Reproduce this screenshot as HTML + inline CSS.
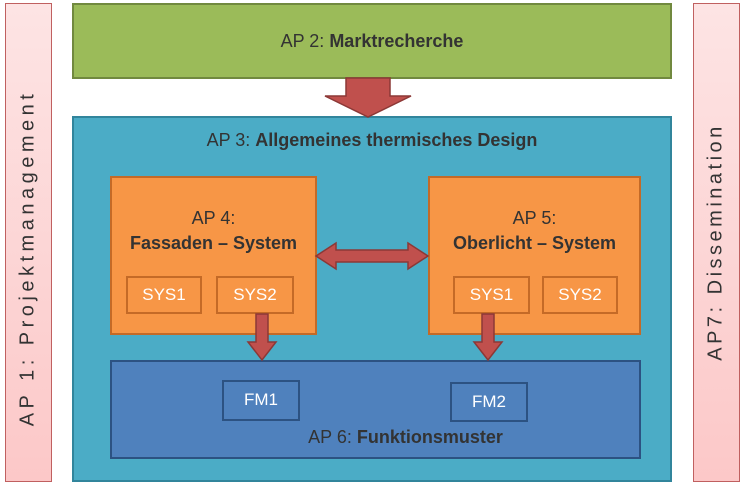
<!DOCTYPE html>
<html><head><meta charset="utf-8"><style>
body{margin:0;width:748px;height:489px;background:#fff;position:relative;overflow:hidden;font-family:"Liberation Sans",sans-serif}
div{position:absolute;box-sizing:border-box}
.t{font-size:18px;color:#333;text-align:center;white-space:nowrap}
.s{background:#f79646;border:2px solid #c46a27;color:#fff;font-size:17px;text-align:center;line-height:34px}
.f{background:#4f81bd;border:2px solid #2c5282;color:#fff;font-size:17px;text-align:center;line-height:36px}
</style></head><body>
<div style="left:5px;top:3px;width:47px;height:479px;background:linear-gradient(#fde4e4,#fcc8c8);border:1px solid #c06060"></div>
<div style="left:693px;top:3px;width:47px;height:479px;background:linear-gradient(#fde4e4,#fcc8c8);border:1px solid #c06060"></div>
<div class="t" style="left:28px;top:258px;transform:translate(-50%,-50%) rotate(-90deg);letter-spacing:4.5px;font-size:20px">AP 1: Projektmanagement</div>
<div class="t" style="left:716px;top:242px;transform:translate(-50%,-50%) rotate(-90deg);letter-spacing:3.5px;font-size:20px">AP7: Dissemination</div>
<div style="left:72px;top:3px;width:600px;height:76px;background:#9bbb59;border:2px solid #71893f"></div>
<div class="t" style="left:72px;top:31px;width:600px">AP 2: <b>Marktrecherche</b></div>
<div style="left:72px;top:116px;width:600px;height:366px;background:#4bacc6;border:2px solid #31859c"></div>
<svg style="position:absolute;left:0;top:0" width="748" height="489">
<polygon points="346,78 390,78 390,96 411,96 368,117 325,96 346,96" fill="#c0504d" stroke="#8c3836" stroke-width="1.5"/>
</svg>
<div class="t" style="left:72px;top:130px;width:600px">AP 3: <b>Allgemeines thermisches Design</b></div>
<div style="left:110px;top:176px;width:207px;height:159px;background:#f79646;border:2px solid #c46a27"></div>
<div style="left:428px;top:176px;width:213px;height:159px;background:#f79646;border:2px solid #c46a27"></div>
<div class="t" style="left:110px;top:206px;width:207px;line-height:25px">AP 4:<br><b>Fassaden – System</b></div>
<div class="t" style="left:428px;top:206px;width:213px;line-height:25px">AP 5:<br><b>Oberlicht – System</b></div>
<div class="s" style="left:126px;top:276px;width:76px;height:38px">SYS1</div>
<div class="s" style="left:216px;top:276px;width:78px;height:38px">SYS2</div>
<div class="s" style="left:453px;top:276px;width:77px;height:38px">SYS1</div>
<div class="s" style="left:542px;top:276px;width:76px;height:38px">SYS2</div>
<div style="left:110px;top:360px;width:531px;height:99px;background:#4f81bd;border:2px solid #2c5282"></div>
<div class="f" style="left:222px;top:380px;width:78px;height:41px">FM1</div>
<div class="f" style="left:450px;top:382px;width:78px;height:40px">FM2</div>
<div class="t" style="left:110px;top:427px;width:531px;padding-left:60px">AP 6: <b>Funktionsmuster</b></div>
<svg style="position:absolute;left:0;top:0" width="748" height="489">
<polygon points="316,256 336,243 336,250 408,250 408,243 428,256 408,269 408,262 336,262 336,269" fill="#c0504d" stroke="#8c3836" stroke-width="1.5"/>
<polygon points="256,314 268,314 268,342 276,342 262,360 248,342 256,342" fill="#c0504d" stroke="#8c3836" stroke-width="1.5"/>
<polygon points="482,314 494,314 494,342 502,342 488,360 474,342 482,342" fill="#c0504d" stroke="#8c3836" stroke-width="1.5"/>
</svg>
</body></html>
